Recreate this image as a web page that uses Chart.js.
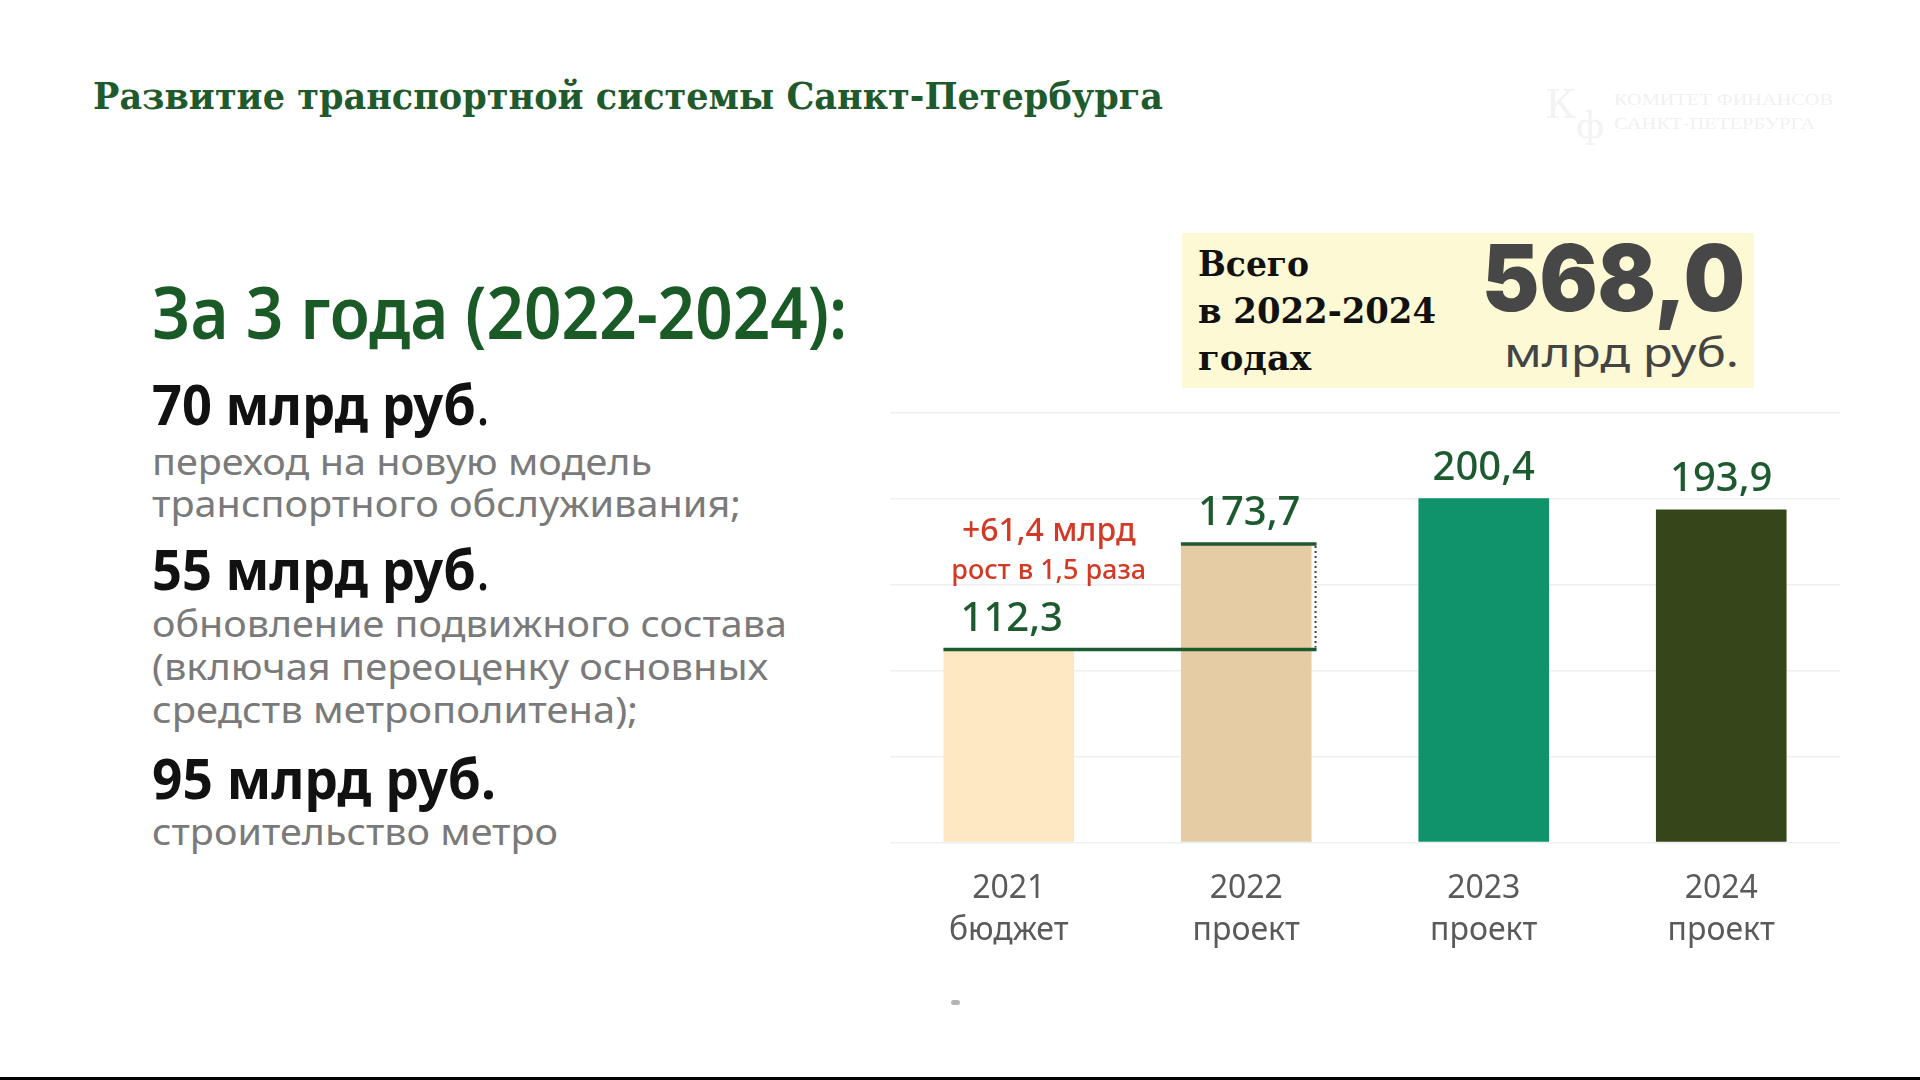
<!DOCTYPE html>
<html lang="ru">
<head>
<meta charset="utf-8">
<script src="https://cdn.jsdelivr.net/npm/chart.js@4.4.1/dist/chart.umd.min.js"></script>
<style>
  html,body{margin:0;padding:0;background:#fff;}
  body{width:1920px;height:1080px;position:relative;overflow:hidden;font-family:"Noto Sans",sans-serif;}
  .t{position:absolute;white-space:nowrap;line-height:1;transform-origin:left center;}
  .serif{font-family:"DejaVu Serif",serif;font-weight:700;}
  .big{font-weight:700;color:#111;font-size:55px;}
  .grey{color:#7a7a7a;font-size:36px;}
  #box{position:absolute;left:1182px;top:233px;width:572px;height:155px;background:#fdf9d4;}
  #chartWrap{position:absolute;left:880px;top:380px;width:970px;height:600px;}
</style>
</head>
<body>
<div class="t serif" data-w="1070" style="left:93px;top:77px;font-size:38px;color:#1f5a2c;">Развитие транспортной системы Санкт-Петербурга</div>

<div class="t" style="left:1545px;top:84px;font-size:40px;color:#f3f3f3;font-family:'DejaVu Serif',serif;">К</div>
<div class="t" style="left:1576px;top:108px;font-size:36px;color:#f3f3f3;font-family:'DejaVu Serif',serif;">ф</div>
<div class="t" data-w="219" style="left:1614px;top:92px;font-size:16px;color:#f1f1f1;font-family:'Liberation Serif',serif;">КОМИТЕТ ФИНАНСОВ</div>
<div class="t" data-w="201" style="left:1614px;top:116px;font-size:16px;color:#f1f1f1;font-family:'Liberation Serif',serif;">САНКТ-ПЕТЕРБУРГА</div>

<div class="t" data-w="695" style="left:152px;top:275px;font-size:72px;font-weight:600;color:#1a5a26;">За 3 года (2022-2024):</div>
<div class="t big" data-w="338" style="left:152px;top:376px;">70 млрд руб<span style="font-weight:400">.</span></div>
<div class="t grey" data-w="500" style="left:152px;top:444px;">переход на новую модель</div>
<div class="t grey" data-w="589" style="left:152px;top:486px;">транспортного обслуживания;</div>
<div class="t big" data-w="338" style="left:152px;top:541px;">55 млрд руб<span style="font-weight:400">.</span></div>
<div class="t grey" data-w="635" style="left:152px;top:606px;">обновление подвижного состава</div>
<div class="t grey" data-w="616" style="left:152px;top:649px;">(включая переоценку основных</div>
<div class="t grey" data-w="486" style="left:152px;top:692px;">средств метрополитена);</div>
<div class="t big" data-w="344" style="left:152px;top:750px;">95 млрд руб.</div>
<div class="t grey" data-w="406" style="left:152px;top:814px;">строительство метро</div>

<div id="box"></div>
<div class="t serif" data-w="111" style="left:1198px;top:245px;font-size:36px;color:#111;">Всего</div>
<div class="t serif" data-w="238" style="left:1198px;top:292px;font-size:36px;color:#111;">в 2022-2024</div>
<div class="t serif" data-w="113" style="left:1198px;top:339px;font-size:36px;color:#111;">годах</div>
<div class="t" data-w="263" style="left:1482px;top:232px;font-size:92px;font-family:Inter,sans-serif;font-weight:900;color:#474747;">568,0</div>
<div class="t" data-w="235" style="left:1504px;top:332px;font-size:40px;color:#444;">млрд руб.</div>

<div id="chartWrap"><canvas id="c" width="970" height="600"></canvas></div>

<div style="position:absolute;left:951px;top:1000px;width:9px;height:5px;border-radius:3px;background:#b4b4b4;"></div>
<div style="position:absolute;left:0;top:1077px;width:1920px;height:3px;background:#000;"></div>

<script>
// ---- data ----
const categories = [["2021", "бюджет"], ["2022", "проект"], ["2023", "проект"], ["2024", "проект"]];
const values = [112.3, 173.7, 200.4, 193.9];
const yMin = 0;
const yMax = 250;
const yStep = 50;

const fmt = v => v.toFixed(1).replace('.', ',');

const annot = {
  id: 'annot',
  afterDatasetsDraw(chart) {
    const ctx = chart.ctx;
    const meta = chart.getDatasetMeta(0);
    const y = chart.scales.y;
    ctx.save();
    // value labels
    ctx.font = '500 40px "Noto Sans"';
    ctx.fillStyle = '#1e5a30';
    ctx.textAlign = 'center';
    ctx.textBaseline = 'middle';
    meta.data.forEach((bar, i) => {
      ctx.fillText(fmt(values[i]), bar.x + (i < 2 ? 3 : 0), bar.y - 30);
    });
    // comparison lines between 2021 and 2022
    const b0 = meta.data[0], b1 = meta.data[1];
    const left0 = b0.x - b0.width / 2;
    const left1 = b1.x - b1.width / 2;
    const right1 = b1.x + b1.width / 2 + 5;
    const y0 = y.getPixelForValue(values[0]);
    const y1 = y.getPixelForValue(values[1]);
    const line = (xa, ya, xb, yb) => { ctx.beginPath(); ctx.moveTo(xa, ya); ctx.lineTo(xb, yb); ctx.stroke(); };
    ctx.strokeStyle = '#1e5a30';
    ctx.lineWidth = 3.5;
    line(left0, y0, right1, y0);
    line(left1, y1, right1, y1);
    ctx.setLineDash([2, 3]);
    ctx.lineWidth = 2;
    ctx.strokeStyle = '#444';
    line(right1 - 1, y1 + 2, right1 - 1, y0 - 2);
    ctx.setLineDash([]);
    // growth texts
    const diff = values[1] - values[0];
    const ratio = values[1] / values[0];
    ctx.fillStyle = '#d23a26';
    ctx.font = '500 32px "Noto Sans"';
    ctx.fillText('+' + fmt(diff) + ' млрд', b0.x + 40, y1 - 12);
    ctx.font = '500 27px "Noto Sans"';
    ctx.fillText('рост в ' + fmt(ratio) + ' раза', b0.x + 40, y1 + 27);
    ctx.restore();
  }
};

Chart.defaults.font.family = '"Noto Sans", sans-serif';

new Chart(document.getElementById('c'), {
  type: 'bar',
  data: {
    labels: categories,
    datasets: [{
      data: values,
      backgroundColor: ['#fde8c2', '#e5cca4', '#10936b', '#34461a'],
      borderWidth: 0,
      barPercentage: 0.55,
      categoryPercentage: 1.0
    }]
  },
  options: {
    responsive: false,
    animation: false,
    devicePixelRatio: 1,
    layout: { padding: { left: 10, right: 10, top: 33, bottom: 0 } },
    plugins: { legend: { display: false }, tooltip: { enabled: false } },
    scales: {
      x: {
        grid: { display: false, drawTicks: false },
        border: { display: false },
        ticks: { color: '#5a5a5a', font: { size: 32, lineHeight: 1.3 }, padding: 26 },
        afterFit: axis => { axis.height = 137.5; }
      },
      y: {
        min: yMin, max: yMax,
        ticks: { display: false, stepSize: yStep },
        grid: { color: '#efefef', lineWidth: 1.5, drawTicks: false },
        border: { display: false },
        afterFit: axis => { axis.width = 0; }
      }
    }
  },
  plugins: [annot]
});

function fit() {
  document.querySelectorAll('[data-w]').forEach(el => {
    el.style.transform = 'none';
    const w = el.getBoundingClientRect().width;
    const t = +el.dataset.w;
    if (w > 0) el.style.transform = 'scaleX(' + (t / w) + ')';
  });
}
fit();
if (document.fonts && document.fonts.ready) document.fonts.ready.then(fit);
</script>
</body>
</html>
